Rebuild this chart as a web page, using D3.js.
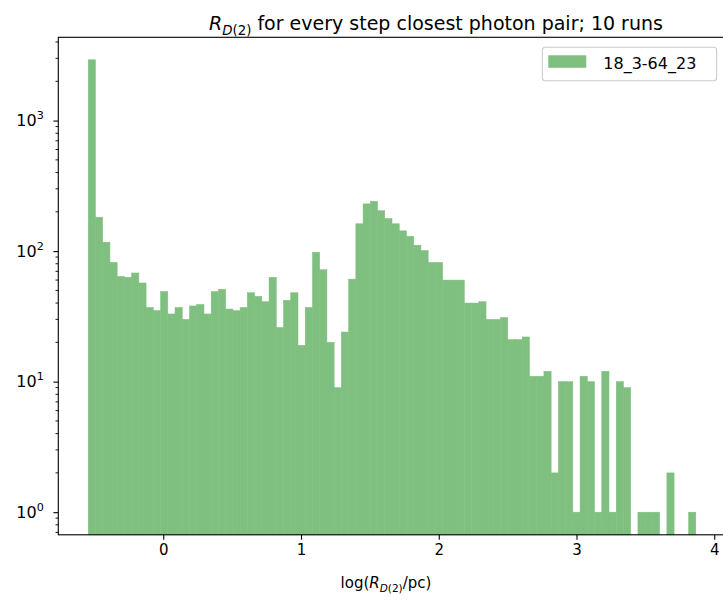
<!DOCTYPE html>
<html><head><meta charset="utf-8">
<script src="https://cdn.jsdelivr.net/npm/d3@7"></script>
<style>body{margin:0;background:#fff} text{font-family:"DejaVu Sans",sans-serif;fill:#000}</style>
</head><body><svg id="c" width="723" height="601"></svg>
<script>
// ---- data ----
const seriesName = "18_3-64_23";
const binStart = -0.5447;      // left edge of first bin (log R / pc)
const binWidth = 0.05251;      // histogram bin width
const counts = [2922,182,117,82,64,63,68,57,37,35,49,33,37,30,38,39,33,49,51,36,
                35,37,48,45,41,63,26,42,48,19,37,98,72,20,9,24,61,162,230,241,
                204,178,162,143,130,111,101,82,82,60,60,60,40,40,41,30,30,31,21,21,
                22,11,11,12,2,10,10,1,11,10,1,12,1,10,9,0,1,1,1,0,
                2,0,0,1];
const xTicks = [0,1,2,3,4];
const yMajorTicks = [1,10,100,1000];
const xDomain = [-0.762, 4.097];
const yDomain = [0.671, 4345];

// ---- layout ----
const svg = d3.select("#c");
const M = {left:58.3, right:727.6, top:37.3, bottom:534.8};
const x = d3.scaleLinear().domain(xDomain).range([M.left, M.right]);
const y = d3.scaleLog().domain(yDomain).range([M.bottom, M.top]);

const bins = counts.map((c,i)=>({x0: binStart+i*binWidth, x1: binStart+(i+1)*binWidth, c}));
svg.append("g").selectAll("rect").data(bins.filter(d=>d.c>0)).join("rect")
  .attr("x", d=>x(d.x0)).attr("width", d=>x(d.x1)-x(d.x0))
  .attr("y", d=>y(d.c)).attr("height", d=>M.bottom - y(d.c))
  .attr("fill","#7fbf7f").attr("stroke","#7fbf7f").attr("stroke-width",0.5);

// x axis
const xa = svg.append("g").attr("transform",`translate(0,${M.bottom})`)
  .call(d3.axisBottom(x).tickValues(xTicks).tickFormat(d3.format("d")).tickSize(4.9).tickPadding(4.5));
xa.select(".domain").remove();
xa.selectAll("line").attr("stroke","#000").attr("stroke-width",1.1);
xa.selectAll("text").attr("font-size",15).attr("font-family","DejaVu Sans").attr("fill","#000");

// y axis major
const ya = svg.append("g").attr("transform",`translate(${M.left},0)`)
  .call(d3.axisLeft(y).tickValues(yMajorTicks).tickSize(4.9).tickPadding(4.5).tickFormat(""));
ya.select(".domain").remove();
ya.selectAll("line").attr("stroke","#000").attr("stroke-width",1.1);
ya.selectAll(".tick").each(function(d){
  const t = d3.select(this).select("text").text(null)
    .attr("font-size",16).attr("fill","#000").attr("x",-14.5).attr("dy","0.32em");
  t.append("tspan").text("10");
  t.append("tspan").text(String(Math.round(Math.log10(d)))).attr("font-size",11.2).attr("dy",-7);
});
// y minor ticks
const minor = y.ticks().filter(v=>!yMajorTicks.includes(v));
svg.append("g").selectAll("line").data(minor).join("line")
  .attr("x1",M.left).attr("x2",M.left-2.8)
  .attr("y1",d=>y(d)).attr("y2",d=>y(d))
  .attr("stroke","#000").attr("stroke-width",0.9);

// frame
svg.append("rect").attr("x",M.left).attr("y",M.top)
  .attr("width",M.right-M.left).attr("height",M.bottom-M.top)
  .attr("fill","none").attr("stroke","#000").attr("stroke-width",1.1);

// title
const title = svg.append("text").attr("x",436).attr("y",30)
  .attr("text-anchor","middle").attr("font-size",19);
title.append("tspan").attr("font-style","italic").text("R");
title.append("tspan").attr("font-style","italic").attr("font-size",13.3).attr("dy",4.5).text("D");
title.append("tspan").attr("font-size",13.3).text("(2)");
title.append("tspan").attr("dy",-4.5).text(" for every step closest photon pair; 10 runs");

// x label
const xl = svg.append("text").attr("x",386).attr("y",588)
  .attr("text-anchor","middle").attr("font-size",15);
xl.append("tspan").text("log(");
xl.append("tspan").attr("font-style","italic").text("R");
xl.append("tspan").attr("font-style","italic").attr("font-size",10.5).attr("dy",3.5).text("D");
xl.append("tspan").attr("font-size",10.5).text("(2)");
xl.append("tspan").attr("dy",-3.5).text("/pc)");

// legend
const lg = svg.append("g").attr("transform",`translate(${M.right-185.3},${M.top+10})`);
lg.append("rect").attr("x",0).attr("y",0).attr("width",174.4).attr("height",33.4)
  .attr("rx",3).attr("fill","#fff").attr("fill-opacity",0.8).attr("stroke","#cccccc").attr("stroke-width",1.1);
lg.append("rect").attr("x",6).attr("y",8).attr("width",38).attr("height",12.5).attr("fill","#7fbf7f");
lg.append("text").attr("x",61).attr("y",22).attr("font-size",16).text(seriesName);
</script></body></html>
